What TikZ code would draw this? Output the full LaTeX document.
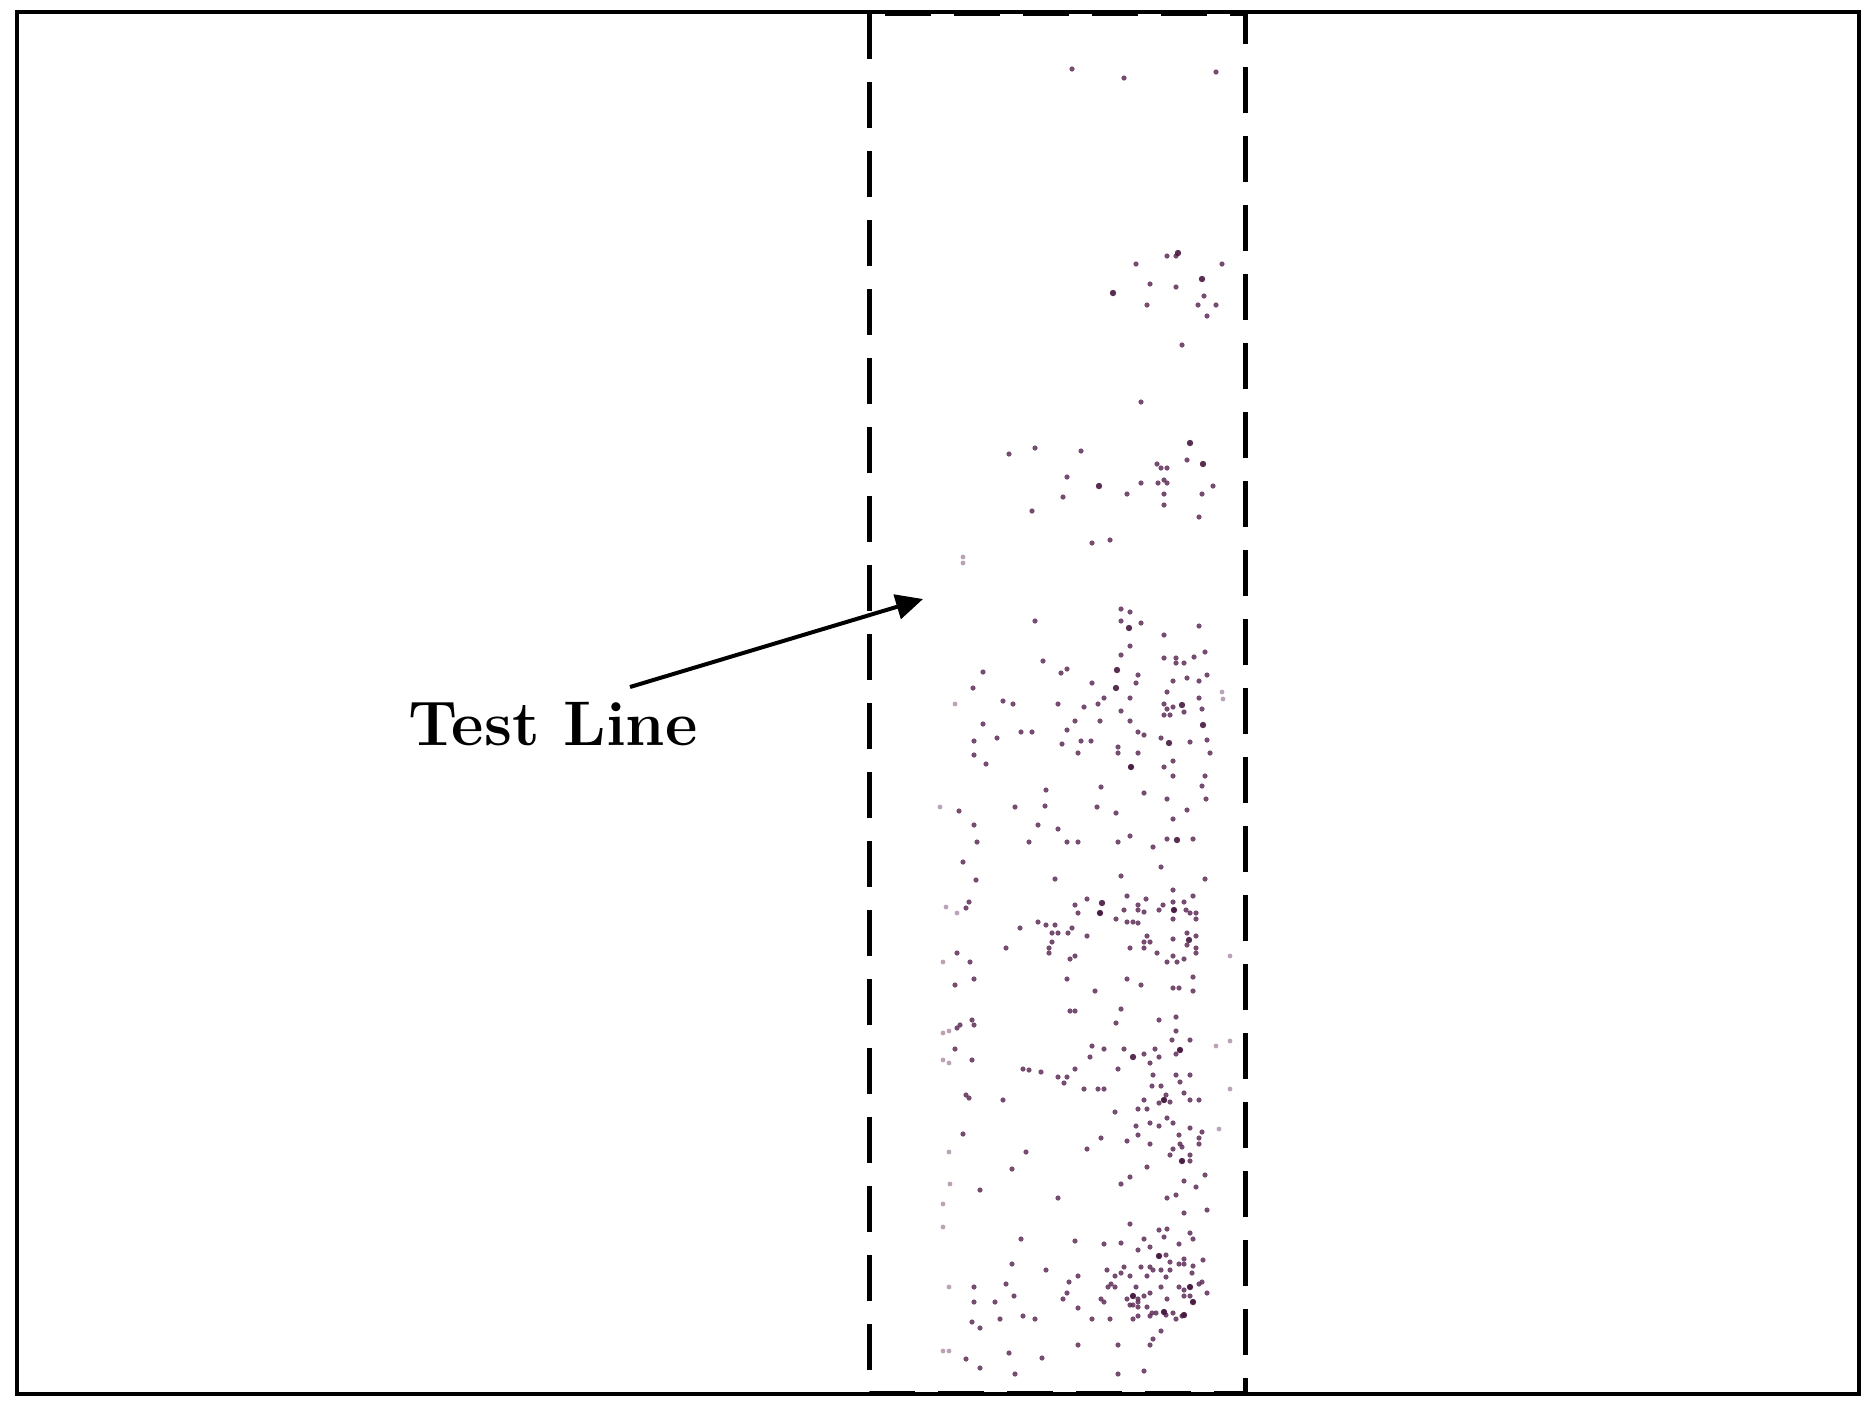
\documentclass[tikz,border=0pt]{standalone}
\usetikzlibrary{arrows.meta}
\definecolor{dotc}{RGB}{95,45,88}
\definecolor{dotd}{RGB}{70,25,62}
\definecolor{dotl}{RGB}{170,140,165}
\begin{document}
\begin{tikzpicture}[x=0.5pt,y=-0.5pt,
  frame/.style={draw=black,line width=1.6pt},
  stripbox/.style={draw=black,line width=2.5pt,dash pattern=on 23pt off 11.5pt},
  pointer/.style={line width=2pt,-{Triangle[length=13.5pt,width=12.5pt]}},
  lbl/.style={font=\fontsize{31.5}{38}\selectfont\bfseries,anchor=base,inner sep=0pt}]
\useasboundingbox (0,0) rectangle (1875,1405);
\fill[white] (0,0) rectangle (1875,1405);
\draw[frame] (17,12) rectangle (1859,1394);
% dots
\foreach \x/\y in {1072/69,1124/78,1216/72,1176/256,1167/256,1136/264,1222/264,1150/284,1176/287,1204/296,
1147/305,1198/305,1216/305,1207/316,1182/345,1141/402,1009/454,1035/448,1081/451,1187/460,1157/464,1161/468,1167/468,
1067/477,1141/483,1158/483,1164/480,1167/483,1213/486,1063/497,1127/494,1164/494,1202/494,1032/511,1164/505,1199/517,
1092/543,1110/540,1121/609,1130/612,1121/621,1141/623,1035/621,1199/626,1164/635,1130/646,1043/661,1121/655,1205/652,
1194/657,1164/658,1176/658,1176/663,1184/663,1061/673,1067/669,1138/675,983/672,1207/675,1092/683,1136/683,1173/681,
1187/678,1199/681,973/688,1167/692,1003/701,1013/704,1058/704,1084/707,1098/704,1104/698,1130/698,1121/711,1164/704,
1173/707,1167/709,1199/698,1202/709,1184/712,1164/715,1170/715,983/724,1075/721,1100/721,1130/721,1067/730,997/738,
1021/732,1032/732,974/741,1062/744,1081/741,1091/741,1118/747,1138/732,1144/735,1161/738,1190/742,1207/740,974/755,
986/764,1078/753,1118/753,1138/753,1210/753,1131/767,1164/767,1173/761,1173/776,1205/776,1202/786,1046/790,1101/787,
1144/793,1167/799,1206/799,959/811,1015/807,1045/806,1097/807,1116/813,1187/810,1173/819,974/825,1038/825,1058/829,
977/842,1029/842,1067/842,1078/842,1118/842,1130/836,1153/847,1167/839,1193/839,963/862,1161/867,976/880,1055/879,
1121/876,1205/879,969/902,966/908,1075/905,1087/899,1100/913,1127/896,1146/899,1138/905,1138/910,1144/912,1163/905,
1173/890,1173/902,1174/910,1184/902,1193/896,1186/910,1190/913,1196/913,1078/913,1124/910,1159/910,1116/919,1127/922,
1133/922,1138/923,1173/919,1196/919,1038/922,1046/925,1055/925,1020/928,1072/928,1052/933,1058/933,1068/933,1087/936,
1147/936,1144/942,1150/942,1173/939,1187/933,1196/936,1187/945,1196/948,1052/942,1049/948,1049/953,1006/948,1130/948,
1144/948,957/953,970/962,1070/959,1075/956,1157/953,1173/956,1167/962,1177/962,1184/959,1196/953,974/979,955/985,
1067/979,1127/979,1141/985,1173/988,1179/988,1193/977,1193/991,1095/991,1070/1011,1075/1011,1121/1009,1116/1023,
1159/1020,1176/1017,1176/1031,957/1028,960/1025,972/1020,974/1025,955/1049,972/1060,1092/1046,1104/1049,1124/1049,
1144/1054,1155/1049,1159/1057,1150/1063,1172/1040,1176/1054,1180/1050,1190/1040,1090/1057,1023/1069,1029/1070,
1041/1072,1058/1077,1067/1077,1064/1083,1075/1069,1118/1069,1153/1075,1176/1075,1180/1082,1190/1075,1084/1089,
1098/1089,1104/1089,1152/1086,1161/1086,1184/1093,966/1095,969/1098,1003/1100,1144/1100,1138/1109,1147/1109,1159/1103,
1164/1100,1170/1102,1166/1095,1190/1100,1199/1100,1115/1112,1167/1118,1173/1123,1150/1123,1136/1126,1159/1126,
1190/1128,1202/1132,963/1134,1138/1135,1179/1135,1199/1138,1101/1138,1127/1141,1150/1144,1180/1144,1182/1147,
1173/1149,1199/1144,1170/1155,1190/1155,1182/1161,1190/1161,1026/1152,1087/1149,1147/1167,1012/1169,1130/1177,
1121/1184,1184/1181,1196/1187,1205/1175,980/1190,1058/1198,1167/1198,1176/1195,1184/1213,1207/1210,1130/1224,
1159/1230,1167/1229,1164/1237,1021/1239,1075/1241,1104/1244,1121/1243,1144/1239,1190/1233,1193/1239,1179/1244,
1138/1250,1150/1247,1159/1256,1166/1255,1170/1262,1179/1264,1184/1264,1184/1259,1193/1266,1203/1260,1012/1264,
1046/1270,1107/1270,1124/1267,1141/1267,1150/1267,1153/1270,1161/1270,1170/1270,1078/1276,1115/1276,1121/1273,
1130/1276,1147/1276,1166/1277,1192/1273,1006/1284,1069/1282,1111/1284,1115/1287,1108/1287,1136/1287,1161/1287,
1179/1287,1184/1290,1190/1287,1199/1284,1202/1282,974/1287,1014/1296,1067/1293,1063/1299,1101/1299,1104/1302,
1127/1299,1133/1296,1138/1299,1138/1302,1144/1296,1150/1293,1167/1299,1184/1296,1190/1296,1193/1302,1207/1293,
974/1302,995/1302,1078/1308,1130/1305,1133/1305,1138/1307,1147/1307,1152/1313,1156/1313,1164/1312,1166/1315,
1173/1313,1184/1315,1182/1316,1176/1319,1150/1316,1138/1316,1133/1319,1092/1319,1110/1319,972/1322,980/1328,
1000/1319,1023/1316,1035/1319,1161/1331,1153/1339,1078/1345,1118/1345,1150/1345,966/1359,980/1368,1009/1353,
1042/1358,1015/1374,1118/1374,1144/1371}
  \fill[dotc,opacity=0.85] (\x,\y) circle[radius=1.3pt];
\foreach \x/\y in {1178/253,1202/279,1113/293,1203/464,1190/443,1099/486,1129/628,1117/670,1116/688,1182/705,
1203/725,1169/743,1131/767,1177/840,1102/903,1100/913,1174/910,1189/940,1133/1057,1180/1050,1164/1100,1159/1256,
1164/1312,1184/1315,1133/1296,1193/1302,1190/1287,1182/1161}
  \fill[dotd,opacity=0.9] (\x,\y) circle[radius=1.6pt];
\foreach \x/\y in {963/557,963/563,1222/692,1223/699,955/704,940/807,946/907,957/913,943/962,1230/956,943/1033,
949/1031,943/1060,949/1063,1216/1046,1230/1041,1230/1089,1219/1129,949/1152,950/1184,943/1204,943/1227,949/1287,
943/1351,949/1351}
  \fill[dotl,opacity=0.8] (\x,\y) circle[radius=1.2pt];
\draw[stripbox] (869,13) rectangle (1245,1393);
\node[lbl] (label) at (553,745) {Test Line};
\coordinate (tail) at (630,687);
\coordinate (tip) at (923,599);
\draw[pointer] (tail) -- (tip);
\end{tikzpicture}
\end{document}
